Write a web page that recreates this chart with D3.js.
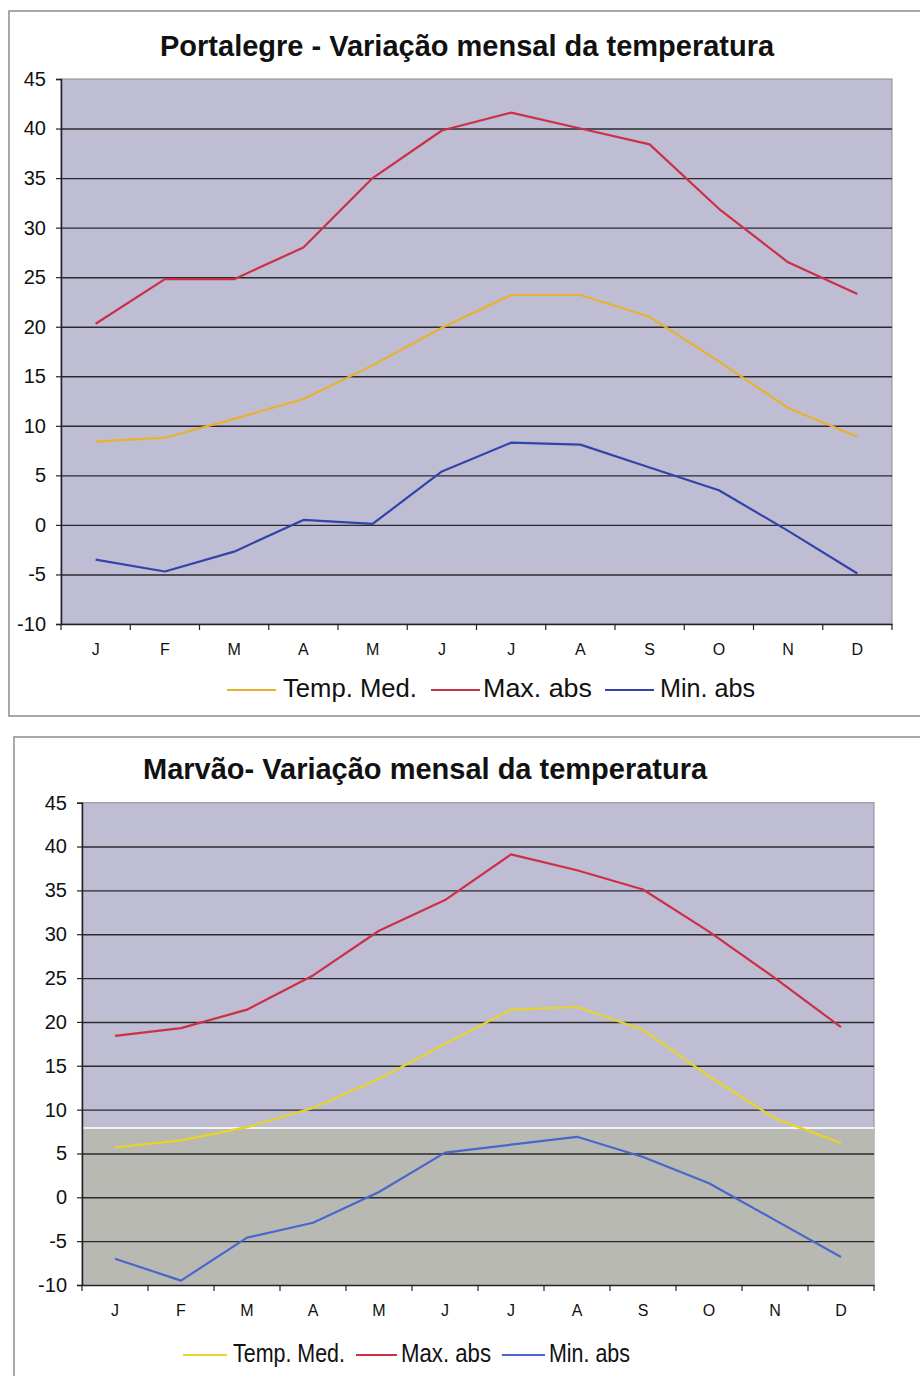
<!DOCTYPE html>
<html><head><meta charset="utf-8">
<script src="https://cdn.jsdelivr.net/npm/d3@7"></script>
<style>
html,body{margin:0;padding:0;background:#fff;}
svg{display:block;font-family:Arial,"Liberation Sans",sans-serif;}
</style></head>
<body>
<svg id="c" width="920" height="1376"></svg>
<script>
// ---- data ----
const months = ["J","F","M","A","M","J","J","A","S","O","N","D"];
const yTicks = [-10,-5,0,5,10,15,20,25,30,35,40,45];
const seriesNames = ["Temp. Med.","Max. abs","Min. abs"];

const portalegreTitle = "Portalegre - Variação mensal da temperatura";
const portalegreMed = [8.4, 8.8, 10.7, 12.7, 16.1, 19.9, 23.2, 23.2, 21.0, 16.5, 11.8, 8.9];
const portalegreMax = [20.3, 24.8, 24.8, 28.0, 35.0, 39.8, 41.6, 40.0, 38.4, 31.9, 26.5, 23.3];
const portalegreMin = [-3.5, -4.7, -2.7, 0.5, 0.1, 5.4, 8.3, 8.1, 5.8, 3.5, -0.6, -4.9];

const marvaoTitle = "Marvão- Variação mensal da temperatura";
const marvaoMed = [5.7, 6.5, 8.0, 10.2, 13.5, 17.5, 21.4, 21.7, 19.1, 13.8, 9.0, 6.2];
const marvaoMax = [18.4, 19.3, 21.4, 25.3, 30.4, 33.9, 39.1, 37.3, 35.1, 30.3, 25.0, 19.4];
const marvaoMin = [-7.0, -9.5, -4.6, -2.9, 0.6, 5.1, 6.0, 6.9, 4.6, 1.6, -2.6, -6.8];

const svg = d3.select("#c");

function drawChart(cfg){
  const g = svg.append("g");
  // outer box
  g.append("rect").attr("x",cfg.box[0]).attr("y",cfg.box[1])
    .attr("width",cfg.box[2]).attr("height",cfg.box[3])
    .attr("fill","#fff").attr("stroke","#8a8a92").attr("stroke-width",1.5);

  const x = d3.scaleBand().domain(d3.range(months.length)).range([cfg.left,cfg.right]);
  const y = d3.scaleLinear().domain([yTicks[0], yTicks[yTicks.length-1]]).range([cfg.bottom,cfg.top]);
  const cx = i => x(i) + x.bandwidth()/2;

  // plot background
  g.append("rect").attr("x",cfg.left).attr("y",cfg.top)
    .attr("width",cfg.right-cfg.left).attr("height",cfg.bottom-cfg.top)
    .attr("fill",cfg.bg).attr("stroke","#8a8a96").attr("stroke-width",1);
  if (cfg.lowerBg){
    g.append("rect").attr("x",cfg.left).attr("y",y(cfg.lowerFrom))
      .attr("width",cfg.right-cfg.left).attr("height",cfg.bottom-y(cfg.lowerFrom))
      .attr("fill",cfg.lowerBg);
    g.append("line").attr("x1",cfg.left).attr("x2",cfg.right)
      .attr("y1",y(cfg.lowerFrom)).attr("y2",y(cfg.lowerFrom))
      .attr("stroke","#f4f4ee").attr("stroke-width",2);
  }

  // gridlines
  g.append("g").attr("transform",`translate(${cfg.left},0)`)
    .call(d3.axisLeft(y).tickValues(yTicks.slice(1,-1)).tickSize(-(cfg.right-cfg.left)).tickFormat(""))
    .call(a=>a.select(".domain").remove())
    .call(a=>a.selectAll("line").attr("stroke","#2a2a30").attr("stroke-width",1.4));

  // y axis
  g.append("g").attr("transform",`translate(${cfg.left},0)`)
    .call(d3.axisLeft(y).tickValues(yTicks).tickSize(5).tickPadding(10).tickFormat(d=>String(d)))
    .call(a=>a.select(".domain").attr("stroke","#222").attr("stroke-width",1.5))
    .call(a=>a.selectAll("line").attr("stroke","#222").attr("stroke-width",1.2))
    .call(a=>a.selectAll("text").attr("font-size",20).attr("fill","#111")
      .attr("font-family","Arial,'Liberation Sans',sans-serif"));

  // x axis: labels centered, ticks at band boundaries
  const xa = g.append("g").attr("transform",`translate(0,${cfg.bottom})`);
  xa.call(d3.axisBottom(x).tickSize(0).tickPadding(cfg.xPad).tickFormat(i=>months[i]))
    .call(a=>a.select(".domain").attr("stroke","#222").attr("stroke-width",1.5))
    .call(a=>a.selectAll("text").attr("font-size",16).attr("fill","#111")
      .attr("font-family","Arial,'Liberation Sans',sans-serif"));
  const bounds = d3.range(months.length).map(i=>x(i)).concat([x(months.length-1)+x.bandwidth()]);
  xa.selectAll("line.bt").data(bounds).join("line").attr("class","bt")
    .attr("x1",d=>d).attr("x2",d=>d).attr("y1",0).attr("y2",6)
    .attr("stroke","#222").attr("stroke-width",1.2);

  // lines
  const line = d3.line().x((d,i)=>cx(i)).y(d=>y(d));
  const series = [cfg.med, cfg.max, cfg.min];
  series.forEach((s,k)=>{
    g.append("path").datum(s).attr("d",line).attr("fill","none")
      .attr("stroke",cfg.colors[k]).attr("stroke-width",2.2)
      .attr("stroke-linejoin","round");
  });

  // title
  g.append("text").attr("x",cfg.titleX).attr("y",cfg.titleY)
    .attr("font-size",29).attr("font-weight","bold").attr("fill","#111")
    .text(cfg.title);

  // legend
  seriesNames.forEach((n,k)=>{
    const L = cfg.legend[k];
    g.append("line").attr("x1",L[0]).attr("x2",L[1])
      .attr("y1",cfg.legendY-7).attr("y2",cfg.legendY-7)
      .attr("stroke",cfg.colors[k]).attr("stroke-width",2);
    g.append("text").attr("x",L[2]).attr("y",cfg.legendY)
      .attr("font-size",cfg.legendFont).attr("fill","#111")
      .attr("textLength",L[3]).attr("lengthAdjust","spacingAndGlyphs")
      .text(n);
  });
}

drawChart({
  box:[9,11,930,705], left:61, right:892, top:79, bottom:624,
  bg:"#bfbdd3", xPad:20,
  med:portalegreMed, max:portalegreMax, min:portalegreMin,
  colors:["#e8b22e","#cc3046","#3443a8"],
  title:portalegreTitle, titleX:160, titleY:56,
  legendY:697, legendFont:25,
  legend:[[227,276,283,134],[431,480,483,109],[605,654,660,95]]
});

drawChart({
  box:[14,737,930,660], left:82, right:874, top:802.7, bottom:1285,
  bg:"#bfbdd3", lowerBg:"#b9b9b4", lowerFrom:7.9, xPad:20,
  med:marvaoMed, max:marvaoMax, min:marvaoMin,
  colors:["#e6d42a","#cc3046","#4a66cc"],
  title:marvaoTitle, titleX:143, titleY:779,
  legendY:1362, legendFont:25,
  legend:[[183,227,233,112],[356,397,401,90],[502,545,549,81]]
});
</script>
</body></html>
